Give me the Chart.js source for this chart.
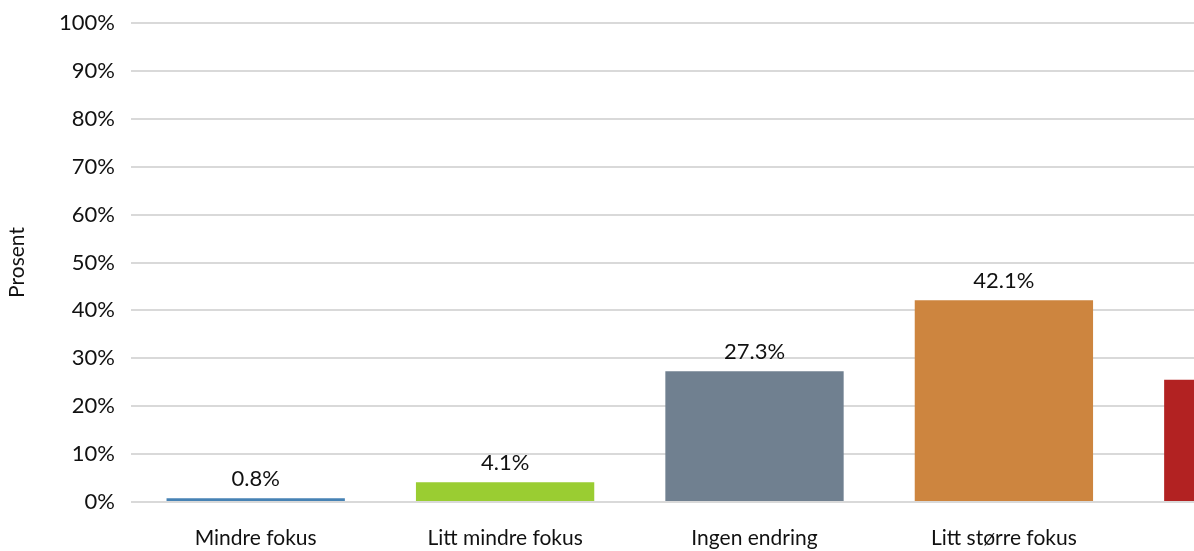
<!DOCTYPE html>
<html>
<head>
<meta charset="utf-8">
<script src="https://cdn.jsdelivr.net/npm/chart.js@4/dist/chart.umd.min.js"></script>
<style>
  html, body { margin: 0; padding: 0; background: #ffffff; overflow: hidden; }
  #wrap { width: 1400px; height: 551px; }
</style>
</head>
<body>
<div id="wrap"><canvas id="c" width="1400" height="551"></canvas></div>
<script>
// Answers grouped by change in focus
const categories = ['Mindre fokus', 'Litt mindre fokus', 'Ingen endring', 'Litt større fokus', 'Større fokus'];
const shares = [0.8, 4.1, 27.3, 42.1, 25.5];
const barColors = ['#4682B4', '#9ACD32', '#708090', '#CD853F', '#B22222'];
const yTicks = [0, 10, 20, 30, 40, 50, 60, 70, 80, 90, 100];

const FONT = 'Lato, "Open Sans", sans-serif';
const TEXT = '#111111';

// Writes each bar's value above it
const valueLabels = {
  id: 'valueLabels',
  afterDatasetsDraw(chart) {
    const ctx = chart.ctx;
    const meta = chart.getDatasetMeta(0);
    ctx.save();
    ctx.font = '22px ' + FONT;
    ctx.fillStyle = TEXT;
    ctx.textAlign = 'center';
    ctx.textBaseline = 'bottom';
    meta.data.forEach((bar, i) => {
      ctx.fillText(shares[i].toFixed(1) + '%', bar.x, bar.y - 8);
    });
    ctx.restore();
  }
};

new Chart(document.getElementById('c'), {
  type: 'bar',
  data: {
    labels: categories,
    datasets: [{
      data: shares,
      backgroundColor: barColors,
      borderWidth: 0,
      categoryPercentage: 1,
      barPercentage: 0.715
    }]
  },
  options: {
    responsive: false,
    animation: false,
    devicePixelRatio: 1,
    layout: { padding: { top: 23, right: 22, left: 0, bottom: 0 } },
    plugins: { legend: { display: false }, tooltip: { enabled: false } },
    scales: {
      x: {
        grid: { display: false },
        border: { display: false },
        ticks: { color: TEXT, font: { family: FONT, size: 21 }, padding: 16, maxRotation: 0 },
        afterFit(s) { s.height = 49; }
      },
      y: {
        min: 0,
        max: 100,
        afterBuildTicks(s) { s.ticks = yTicks.map(v => ({ value: v })); },
        ticks: {
          color: TEXT,
          font: { family: FONT, size: 22 },
          padding: 16,
          callback: v => v + '%'
        },
        grid: { color: '#d9d9d9', lineWidth: 2, drawTicks: false },
        border: { display: false },
        title: {
          display: true,
          text: 'Prosent',
          color: TEXT,
          font: { family: FONT, size: 21 },
          padding: { top: 5, bottom: 0 }
        },
        afterFit(s) {
          s.width = 131;
          s.paddingTop = 0;
          s.paddingBottom = 0;
        }
      }
    }
  },
  plugins: [valueLabels]
});
</script>
</body>
</html>
